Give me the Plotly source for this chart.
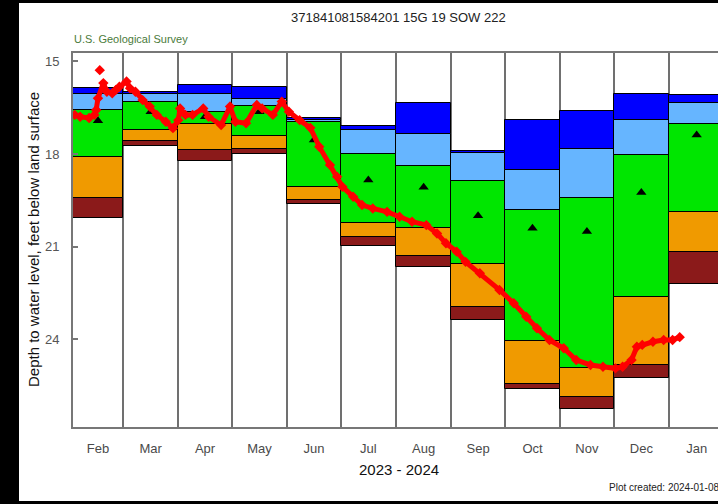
import pandas as pd
import plotly.graph_objects as go

# Monthly percentile classes of depth to water (feet below land surface)
months = ["Feb", "Mar", "Apr", "May", "Jun", "Jul", "Aug", "Sep", "Oct", "Nov", "Dec", "Jan"]
month_starts = ["2023-02-01", "2023-03-01", "2023-04-01", "2023-05-01", "2023-06-01", "2023-07-01",
                "2023-08-01", "2023-09-01", "2023-10-01", "2023-11-01", "2023-12-01", "2024-01-01"]
period_end = "2024-02-01"

depth_max = [15.87, 16.00, 15.76, 15.82, 16.84, 17.08, 16.33, 17.90, 16.90, 16.59, 16.05, 16.09]
depth_p90 = [16.06, 16.04, 16.06, 16.21, 16.89, 17.22, 17.35, 17.95, 18.51, 17.83, 16.90, 16.35]
depth_p75 = [16.57, 16.32, 16.63, 16.44, 16.95, 18.00, 18.39, 18.87, 19.81, 19.43, 18.03, 17.03]
depth_p25 = [18.08, 17.22, 17.02, 17.41, 19.08, 20.22, 20.40, 21.56, 24.04, 24.94, 22.62, 19.88]
depth_p10 = [19.43, 17.57, 17.87, 17.84, 19.49, 20.70, 21.29, 22.95, 25.46, 25.86, 24.83, 21.18]
depth_min = [20.08, 17.73, 18.22, 18.01, 19.62, 20.97, 21.67, 23.37, 25.62, 26.27, 25.24, 22.21]
depth_median = [16.92, 16.63, 16.79, 16.63, 17.54, 18.84, 19.07, 20.00, 20.40, 20.51, 19.24, 17.38]

# Daily observations
obs_dates = ["2023-02-02", "2023-02-05", "2023-02-10", "2023-02-13", "2023-02-14", "2023-02-15",
             "2023-02-18", "2023-02-20", "2023-02-23", "2023-02-25", "2023-02-27", "2023-03-03",
             "2023-03-05", "2023-03-08", "2023-03-12", "2023-03-16", "2023-03-20", "2023-03-25",
             "2023-03-29", "2023-04-01", "2023-04-02", "2023-04-05", "2023-04-09", "2023-04-15",
             "2023-04-18", "2023-04-25", "2023-04-30", "2023-05-03", "2023-05-09", "2023-05-15",
             "2023-05-18", "2023-05-24", "2023-05-29", "2023-06-02", "2023-06-08", "2023-06-14",
             "2023-06-19", "2023-06-25", "2023-06-29", "2023-07-02", "2023-07-08", "2023-07-13",
             "2023-07-19", "2023-07-27", "2023-08-03", "2023-08-10", "2023-08-18", "2023-08-24",
             "2023-08-29", "2023-09-04", "2023-09-09", "2023-09-17", "2023-09-28", "2023-10-06",
             "2023-10-13", "2023-10-19", "2023-10-26", "2023-11-03", "2023-11-10", "2023-11-18",
             "2023-11-25", "2023-12-02", "2023-12-06", "2023-12-11", "2023-12-14", "2023-12-17",
             "2023-12-23", "2023-12-29", "2024-01-03", "2024-01-07"]
obs_depth = [16.73, 16.79, 16.83, 16.73, 16.57, 16.19,
             15.70, 15.98, 16.03, 15.92, 15.82, 15.65,
             15.87, 15.98, 16.25, 16.46, 16.73, 16.95,
             17.16, 16.90, 16.52, 16.73, 16.73, 16.52,
             16.79, 17.06, 16.46, 16.95, 17.00, 16.41,
             16.52, 16.73, 16.30, 16.63, 16.90, 17.15,
             17.76, 18.35, 18.73, 19.06, 19.38, 19.65,
             19.76, 19.87, 20.03, 20.19, 20.30, 20.57,
             20.89, 21.16, 21.49, 21.86, 22.40, 22.83,
             23.27, 23.64, 24.02, 24.29, 24.67, 24.83,
             24.89, 24.94, 24.89, 24.67, 24.24, 24.18,
             24.08, 24.02, 24.02, 23.93]
spike_dates = ["2023-02-16"]
spike_depth = [15.28]

y_ticks = [15, 18, 21, 24]

# Month geometry derived from the month start dates
edges = pd.to_datetime(month_starts + [period_end])
spans = edges[1:] - edges[:-1]
mids = edges[:-1] + spans / 2
widths = [s.total_seconds() * 1000 for s in spans]

bands = [
    (depth_max, depth_p90, "#0000FF"),
    (depth_p90, depth_p75, "#66B5FF"),
    (depth_p75, depth_p25, "#00E600"),
    (depth_p25, depth_p10, "#F09A00"),
    (depth_p10, depth_min, "#8B1A1A"),
]

fig = go.Figure()
for top, bottom, color in bands:
    fig.add_trace(go.Bar(
        x=mids, y=[b - t for t, b in zip(top, bottom)], base=top, width=widths,
        marker=dict(color=color, line=dict(color="black", width=1)),
        showlegend=False, hoverinfo="skip",
    ))

fig.add_trace(go.Scatter(
    x=mids, y=depth_median, mode="markers",
    marker=dict(symbol="triangle-up", size=9, color="black"),
    showlegend=False,
))

fig.add_trace(go.Scatter(
    x=obs_dates, y=obs_depth, mode="lines+markers",
    line=dict(color="#FF0000", width=5),
    marker=dict(symbol="diamond", size=8, color="#FF0000"),
    showlegend=False,
))
fig.add_trace(go.Scatter(
    x=spike_dates, y=spike_depth, mode="markers",
    marker=dict(symbol="diamond", size=8, color="#FF0000"),
    showlegend=False,
))

L, T, B = 73, 53, 77
W, H = 718, 504
pw, ph = W - L, H - T - B


def px(x):
    return (x - L) / pw


def py(y):
    return (H - B - y) / ph


font = "Liberation Sans, Arial, sans-serif"


def label(text, x, y, size, color, xanchor="center", angle=0):
    return dict(text=text, xref="paper", yref="paper", x=px(x), y=py(y),
                xanchor=xanchor, yanchor="middle", textangle=angle, showarrow=False,
                font=dict(size=size, color=color))


fig.update_layout(
    width=W, height=H,
    margin=dict(l=L, r=0, t=T, b=B),
    paper_bgcolor="white", plot_bgcolor="white",
    barmode="overlay", bargap=0,
    font=dict(family=font, color="#222"),
    xaxis=dict(
        type="date",
        range=["2023-02-01", "2024-01-28 11:00"],
        tickmode="array", tickvals=mids, ticktext=months,
        ticks="", showgrid=False, zeroline=False,
        tickfont=dict(size=13, color="#4a4a4a"),
        ticklabelstandoff=8,
        showline=True, mirror=True, linecolor="#777", linewidth=2,
        minor=dict(tickmode="array", tickvals=month_starts[1:], showgrid=True,
                   gridcolor="#707070", gridwidth=2, ticks=""),
    ),
    yaxis=dict(
        range=[26.84, 14.725],
        tickmode="array", tickvals=y_ticks,
        ticks="inside", ticklen=5, tickcolor="#777", tickwidth=1.5,
        tickfont=dict(size=13, color="#555"),
        ticklabelstandoff=9,
        showgrid=False, zeroline=False,
        showline=True, linecolor="#777", linewidth=2,
    ),
    annotations=[
        label("371841081584201 15G 19 SOW 222", 398, 17.5, 13, "#222"),
        label("U.S. Geological Survey", 72, 39, 11, "#4b7b3b", xanchor="left"),
        label("Depth to water level, feet below land surface", 33, 240, 15, "#111", angle=-90),
        label("2023 - 2024", 399, 469, 15, "#111"),
        label("Plot created: 2024-01-08", 607, 487, 10, "#222", xanchor="left"),
    ],
    shapes=[
        dict(type="rect", xref="paper", yref="paper", x0=px(0), x1=px(19), y0=py(H), y1=py(0),
             fillcolor="black", line=dict(width=0), layer="above"),
        dict(type="rect", xref="paper", yref="paper", x0=px(0), x1=px(W), y0=py(3), y1=py(0),
             fillcolor="black", line=dict(width=0), layer="above"),
        dict(type="rect", xref="paper", yref="paper", x0=px(0), x1=px(W), y0=py(H), y1=py(501),
             fillcolor="black", line=dict(width=0), layer="above"),
    ],
)

fig.write_html("out.html")
